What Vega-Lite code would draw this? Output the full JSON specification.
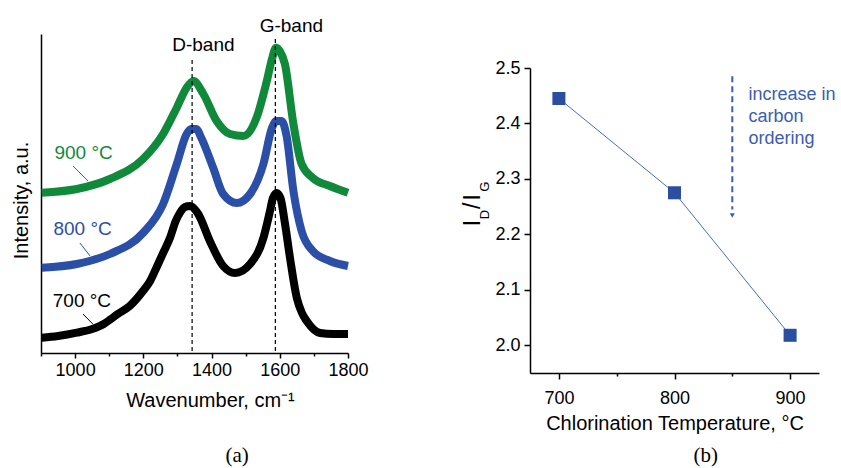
{
  "$schema": "https://vega.github.io/schema/vega-lite/v6.json",
  "padding": {"left": 11, "top": 16, "right": 0, "bottom": 0},
  "background": "white",
  "spacing": 92,
  "config": {
    "view": {"stroke": null},
    "axis": {"domainColor": "#000", "tickColor": "#000", "labelColor": "#000", "titleColor": "#000", "labelFont": "Liberation Sans", "titleFont": "Liberation Sans", "labelFontSize": 18, "titleFontSize": 20, "titleFontWeight": "normal", "grid": false, "domainWidth": 1.5, "tickWidth": 1.5}
  },
  "datasets": {
    "spectra": [
      {"T": "700", "wavenumber": 902, "intensity": 15.3},
      {"T": "700", "wavenumber": 950, "intensity": 17},
      {"T": "700", "wavenumber": 1005, "intensity": 20.3},
      {"T": "700", "wavenumber": 1050, "intensity": 24},
      {"T": "700", "wavenumber": 1084, "intensity": 29},
      {"T": "700", "wavenumber": 1105, "intensity": 34},
      {"T": "700", "wavenumber": 1125, "intensity": 39},
      {"T": "700", "wavenumber": 1160, "intensity": 47},
      {"T": "700", "wavenumber": 1199, "intensity": 62},
      {"T": "700", "wavenumber": 1220, "intensity": 72},
      {"T": "700", "wavenumber": 1238, "intensity": 85},
      {"T": "700", "wavenumber": 1258, "intensity": 100},
      {"T": "700", "wavenumber": 1278, "intensity": 115},
      {"T": "700", "wavenumber": 1295, "intensity": 132},
      {"T": "700", "wavenumber": 1307, "intensity": 140},
      {"T": "700", "wavenumber": 1322, "intensity": 146},
      {"T": "700", "wavenumber": 1337, "intensity": 147},
      {"T": "700", "wavenumber": 1350, "intensity": 144},
      {"T": "700", "wavenumber": 1361, "intensity": 139},
      {"T": "700", "wavenumber": 1395, "intensity": 112},
      {"T": "700", "wavenumber": 1434, "intensity": 87},
      {"T": "700", "wavenumber": 1469, "intensity": 80},
      {"T": "700", "wavenumber": 1513, "intensity": 89},
      {"T": "700", "wavenumber": 1552, "intensity": 115},
      {"T": "700", "wavenumber": 1570, "intensity": 140},
      {"T": "700", "wavenumber": 1580, "intensity": 155},
      {"T": "700", "wavenumber": 1591, "intensity": 160},
      {"T": "700", "wavenumber": 1602, "intensity": 155},
      {"T": "700", "wavenumber": 1615, "intensity": 130},
      {"T": "700", "wavenumber": 1630, "intensity": 95},
      {"T": "700", "wavenumber": 1650, "intensity": 55},
      {"T": "700", "wavenumber": 1665, "intensity": 40},
      {"T": "700", "wavenumber": 1679, "intensity": 32},
      {"T": "700", "wavenumber": 1718, "intensity": 20},
      {"T": "700", "wavenumber": 1757, "intensity": 19},
      {"T": "700", "wavenumber": 1800, "intensity": 19},
      {"T": "800", "wavenumber": 902, "intensity": 85.3},
      {"T": "800", "wavenumber": 1005, "intensity": 89},
      {"T": "800", "wavenumber": 1102, "intensity": 99},
      {"T": "800", "wavenumber": 1199, "intensity": 120},
      {"T": "800", "wavenumber": 1258, "intensity": 149},
      {"T": "800", "wavenumber": 1298, "intensity": 189},
      {"T": "800", "wavenumber": 1327, "intensity": 219},
      {"T": "800", "wavenumber": 1340, "intensity": 224},
      {"T": "800", "wavenumber": 1355, "intensity": 224},
      {"T": "800", "wavenumber": 1370, "intensity": 215},
      {"T": "800", "wavenumber": 1405, "intensity": 185},
      {"T": "800", "wavenumber": 1434, "intensity": 159},
      {"T": "800", "wavenumber": 1474, "intensity": 150},
      {"T": "800", "wavenumber": 1513, "intensity": 159},
      {"T": "800", "wavenumber": 1552, "intensity": 189},
      {"T": "800", "wavenumber": 1577, "intensity": 225},
      {"T": "800", "wavenumber": 1590, "intensity": 232},
      {"T": "800", "wavenumber": 1605, "intensity": 232},
      {"T": "800", "wavenumber": 1620, "intensity": 217},
      {"T": "800", "wavenumber": 1640, "intensity": 162},
      {"T": "800", "wavenumber": 1664, "intensity": 122},
      {"T": "800", "wavenumber": 1697, "intensity": 102},
      {"T": "800", "wavenumber": 1747, "intensity": 92},
      {"T": "800", "wavenumber": 1800, "intensity": 87},
      {"T": "900", "wavenumber": 902, "intensity": 160.3},
      {"T": "900", "wavenumber": 1005, "intensity": 164},
      {"T": "900", "wavenumber": 1102, "intensity": 174},
      {"T": "900", "wavenumber": 1199, "intensity": 194},
      {"T": "900", "wavenumber": 1258, "intensity": 219},
      {"T": "900", "wavenumber": 1298, "intensity": 245.3},
      {"T": "900", "wavenumber": 1327, "intensity": 265.3},
      {"T": "900", "wavenumber": 1347, "intensity": 272},
      {"T": "900", "wavenumber": 1376, "intensity": 259},
      {"T": "900", "wavenumber": 1415, "intensity": 232},
      {"T": "900", "wavenumber": 1454, "intensity": 219},
      {"T": "900", "wavenumber": 1493, "intensity": 217},
      {"T": "900", "wavenumber": 1532, "intensity": 235.3},
      {"T": "900", "wavenumber": 1562, "intensity": 272},
      {"T": "900", "wavenumber": 1577, "intensity": 294},
      {"T": "900", "wavenumber": 1589, "intensity": 305.3},
      {"T": "900", "wavenumber": 1600, "intensity": 302},
      {"T": "900", "wavenumber": 1615, "intensity": 289},
      {"T": "900", "wavenumber": 1640, "intensity": 229},
      {"T": "900", "wavenumber": 1664, "intensity": 189},
      {"T": "900", "wavenumber": 1697, "intensity": 175},
      {"T": "900", "wavenumber": 1747, "intensity": 167},
      {"T": "900", "wavenumber": 1800, "intensity": 160.3}
    ],
    "bands": [
      {"band": "D-band", "wavenumber": 1343, "bottom": 2, "top": 294, "labelWn": 1376, "labelY": 308.5},
      {"band": "G-band", "wavenumber": 1587, "bottom": 2, "top": 317, "labelWn": 1634, "labelY": 327.5}
    ],
    "seriesLabels": [
      {"T": "900", "label": "900 °C", "wn": 1025, "y": 200, "x1": 994, "y1": 187, "x2": 1038, "y2": 172},
      {"T": "800", "label": "800 °C", "wn": 1022, "y": 124, "x1": 1014, "y1": 110, "x2": 1044, "y2": 97},
      {"T": "700", "label": "700 °C", "wn": 1020, "y": 52, "x1": 1023, "y1": 39, "x2": 1052, "y2": 29}
    ],
    "ratio": [
      {"temperature": 700, "ratio": 2.445},
      {"temperature": 800, "ratio": 2.275},
      {"temperature": 900, "ratio": 2.018}
    ]
  },
  "hconcat": [
    {
      "width": 307,
      "height": 319,
      "resolve": {"axis": {"x": "independent"}},
      "layer": [
        {
          "data": {"name": "spectra"},
          "mark": {"type": "line", "strokeWidth": 8, "interpolate": "monotone"},
          "encoding": {
            "x": {"field": "wavenumber", "type": "quantitative", "scale": {"domain": [900, 1800], "nice": false, "zero": false},
              "axis": {"orient": "bottom", "title": "Wavenumber, cm⁻¹", "titleX": 169, "values": [1000, 1200, 1400, 1600, 1800], "format": "d",
                "tickSize": 5, "labelPadding": 3, "titlePadding": 11, "labelFlush": false, "labelOverlap": false}},
            "y": {"field": "intensity", "type": "quantitative", "scale": {"domain": [0, 319], "nice": false, "zero": false},
              "axis": {"title": "Intensity, a.u.", "titleY": 166, "ticks": false, "labels": false, "titlePadding": 10}},
            "color": {"field": "T", "type": "nominal", "scale": {"domain": ["700", "800", "900"], "range": ["#000000", "#2b4ea6", "#108a3a"]}, "legend": null}
          }
        },
        {
          "data": {"name": "bands"},
          "mark": {"type": "rule", "strokeDash": [4, 3], "strokeWidth": 1.2, "color": "#000"},
          "encoding": {
            "x": {"field": "wavenumber", "type": "quantitative",
              "axis": {"orient": "bottom", "title": null, "values": [900, 1100, 1300, 1500, 1700], "labels": false, "domain": false, "tickSize": 3}},
            "y": {"field": "bottom", "type": "quantitative"},
            "y2": {"field": "top"}
          }
        },
        {
          "data": {"name": "bands"},
          "mark": {"type": "text", "font": "Liberation Sans", "fontSize": 19, "color": "#000", "align": "center", "baseline": "middle"},
          "encoding": {
            "x": {"field": "labelWn", "type": "quantitative", "axis": null},
            "y": {"field": "labelY", "type": "quantitative"},
            "text": {"field": "band"}
          }
        },
        {
          "data": {"name": "seriesLabels"},
          "mark": {"type": "rule", "strokeWidth": 1},
          "encoding": {
            "x": {"field": "x1", "type": "quantitative", "axis": null},
            "y": {"field": "y1", "type": "quantitative"},
            "x2": {"field": "x2"},
            "y2": {"field": "y2"},
            "color": {"field": "T", "type": "nominal"}
          }
        },
        {
          "data": {"name": "seriesLabels"},
          "mark": {"type": "text", "font": "Liberation Sans", "fontSize": 19, "align": "center", "baseline": "middle"},
          "encoding": {
            "x": {"field": "wn", "type": "quantitative", "axis": null},
            "y": {"field": "y", "type": "quantitative"},
            "text": {"field": "label"},
            "color": {"field": "T", "type": "nominal"}
          }
        },
        {
          "data": {"values": [{}]},
          "mark": {"type": "text", "font": "Liberation Serif", "fontSize": 21, "color": "#000", "align": "center", "baseline": "middle"},
          "encoding": {
            "x": {"datum": 1475, "axis": null},
            "y": {"datum": -103},
            "text": {"value": "(a)"}
          }
        }
      ]
    },
    {
      "width": 289,
      "height": 339,
      "layer": [
        {
          "data": {"name": "ratio"},
          "mark": {"type": "line", "strokeWidth": 1, "color": "#4a6cc0"},
          "encoding": {
            "x": {"field": "temperature", "type": "quantitative", "scale": {"domain": [675, 925], "nice": false, "zero": false},
              "axis": {"title": "Chlorination Temperature, °C", "values": [700, 750, 800, 850, 900], "labelExpr": "datum.value % 100 == 0 ? format(datum.value, 'd') : ''",
                "tickSize": {"condition": {"test": "datum.value % 100 != 0", "value": 3}, "value": 6}, "labelPadding": 10, "titlePadding": 6, "labelFlush": false, "labelOverlap": false}},
            "y": {"field": "ratio", "type": "quantitative", "scale": {"domain": [1.95, 2.5], "range": [339, 34], "nice": false, "zero": false},
              "axis": {"title": null, "values": [2.0, 2.05, 2.1, 2.15, 2.2, 2.25, 2.3, 2.35, 2.4, 2.45, 2.5],
                "labelExpr": "abs(datum.value * 10 - round(datum.value * 10)) < 0.01 ? format(datum.value, '.1f') : ''",
                "tickSize": {"condition": {"test": "abs(datum.value * 10 - round(datum.value * 10)) > 0.01", "value": 3}, "value": 6}, "labelPadding": 4, "labelOverlap": false, "labelFlush": false}}
          }
        },
        {
          "data": {"name": "ratio"},
          "mark": {"type": "point", "shape": "square", "filled": true, "size": 170, "opacity": 1, "color": "#2b4ea0"},
          "encoding": {
            "x": {"field": "temperature", "type": "quantitative"},
            "y": {"field": "ratio", "type": "quantitative"}
          }
        },
        {
          "data": {"values": [{}]},
          "mark": {"type": "rule", "strokeDash": [6, 4], "strokeWidth": 2, "color": "#3b5db0"},
          "encoding": {
            "x": {"datum": 850},
            "y": {"datum": 2.485},
            "y2": {"datum": 2.245}
          }
        },
        {
          "data": {"values": [{}]},
          "mark": {"type": "point", "shape": "triangle-down", "filled": true, "size": 25, "opacity": 1, "color": "#3b5db0"},
          "encoding": {
            "x": {"datum": 850},
            "y": {"datum": 2.234}
          }
        },
        {
          "data": {"values": [{}]},
          "mark": {"type": "text", "font": "Liberation Sans", "fontSize": 18, "color": "#3b5db0", "align": "left", "baseline": "middle", "lineHeight": 22, "lineBreak": "\n"},
          "encoding": {
            "x": {"datum": 864},
            "y": {"datum": 2.452},
            "text": {"value": "increase in\ncarbon\nordering"}
          }
        },
        {
          "data": {"values": [{}]},
          "mark": {"type": "text", "font": "Liberation Sans", "fontSize": 23, "color": "#000", "align": "center", "baseline": "middle", "angle": 270},
          "encoding": {"x": {"datum": 625.3}, "y": {"datum": 2.2202}, "text": {"value": "I"}}
        },
        {
          "data": {"values": [{}]},
          "mark": {"type": "text", "font": "Liberation Sans", "fontSize": 13, "color": "#000", "align": "center", "baseline": "middle", "angle": 270},
          "encoding": {"x": {"datum": 636.5}, "y": {"datum": 2.2355}, "text": {"value": "D"}}
        },
        {
          "data": {"values": [{}]},
          "mark": {"type": "text", "font": "Liberation Sans", "fontSize": 23, "color": "#000", "align": "center", "baseline": "middle", "angle": 270},
          "encoding": {"x": {"datum": 625.3}, "y": {"datum": 2.2517}, "text": {"value": "/"}}
        },
        {
          "data": {"values": [{}]},
          "mark": {"type": "text", "font": "Liberation Sans", "fontSize": 23, "color": "#000", "align": "center", "baseline": "middle", "angle": 270},
          "encoding": {"x": {"datum": 625.3}, "y": {"datum": 2.2670}, "text": {"value": "I"}}
        },
        {
          "data": {"values": [{}]},
          "mark": {"type": "text", "font": "Liberation Sans", "fontSize": 13, "color": "#000", "align": "center", "baseline": "middle", "angle": 270},
          "encoding": {"x": {"datum": 636.5}, "y": {"datum": 2.2859}, "text": {"value": "G"}}
        },
        {
          "data": {"values": [{}]},
          "mark": {"type": "text", "font": "Liberation Serif", "fontSize": 21, "color": "#000", "align": "center", "baseline": "middle"},
          "encoding": {"x": {"datum": 827}, "y": {"datum": 1.80}, "text": {"value": "(b)"}}
        }
      ]
    }
  ]
}
